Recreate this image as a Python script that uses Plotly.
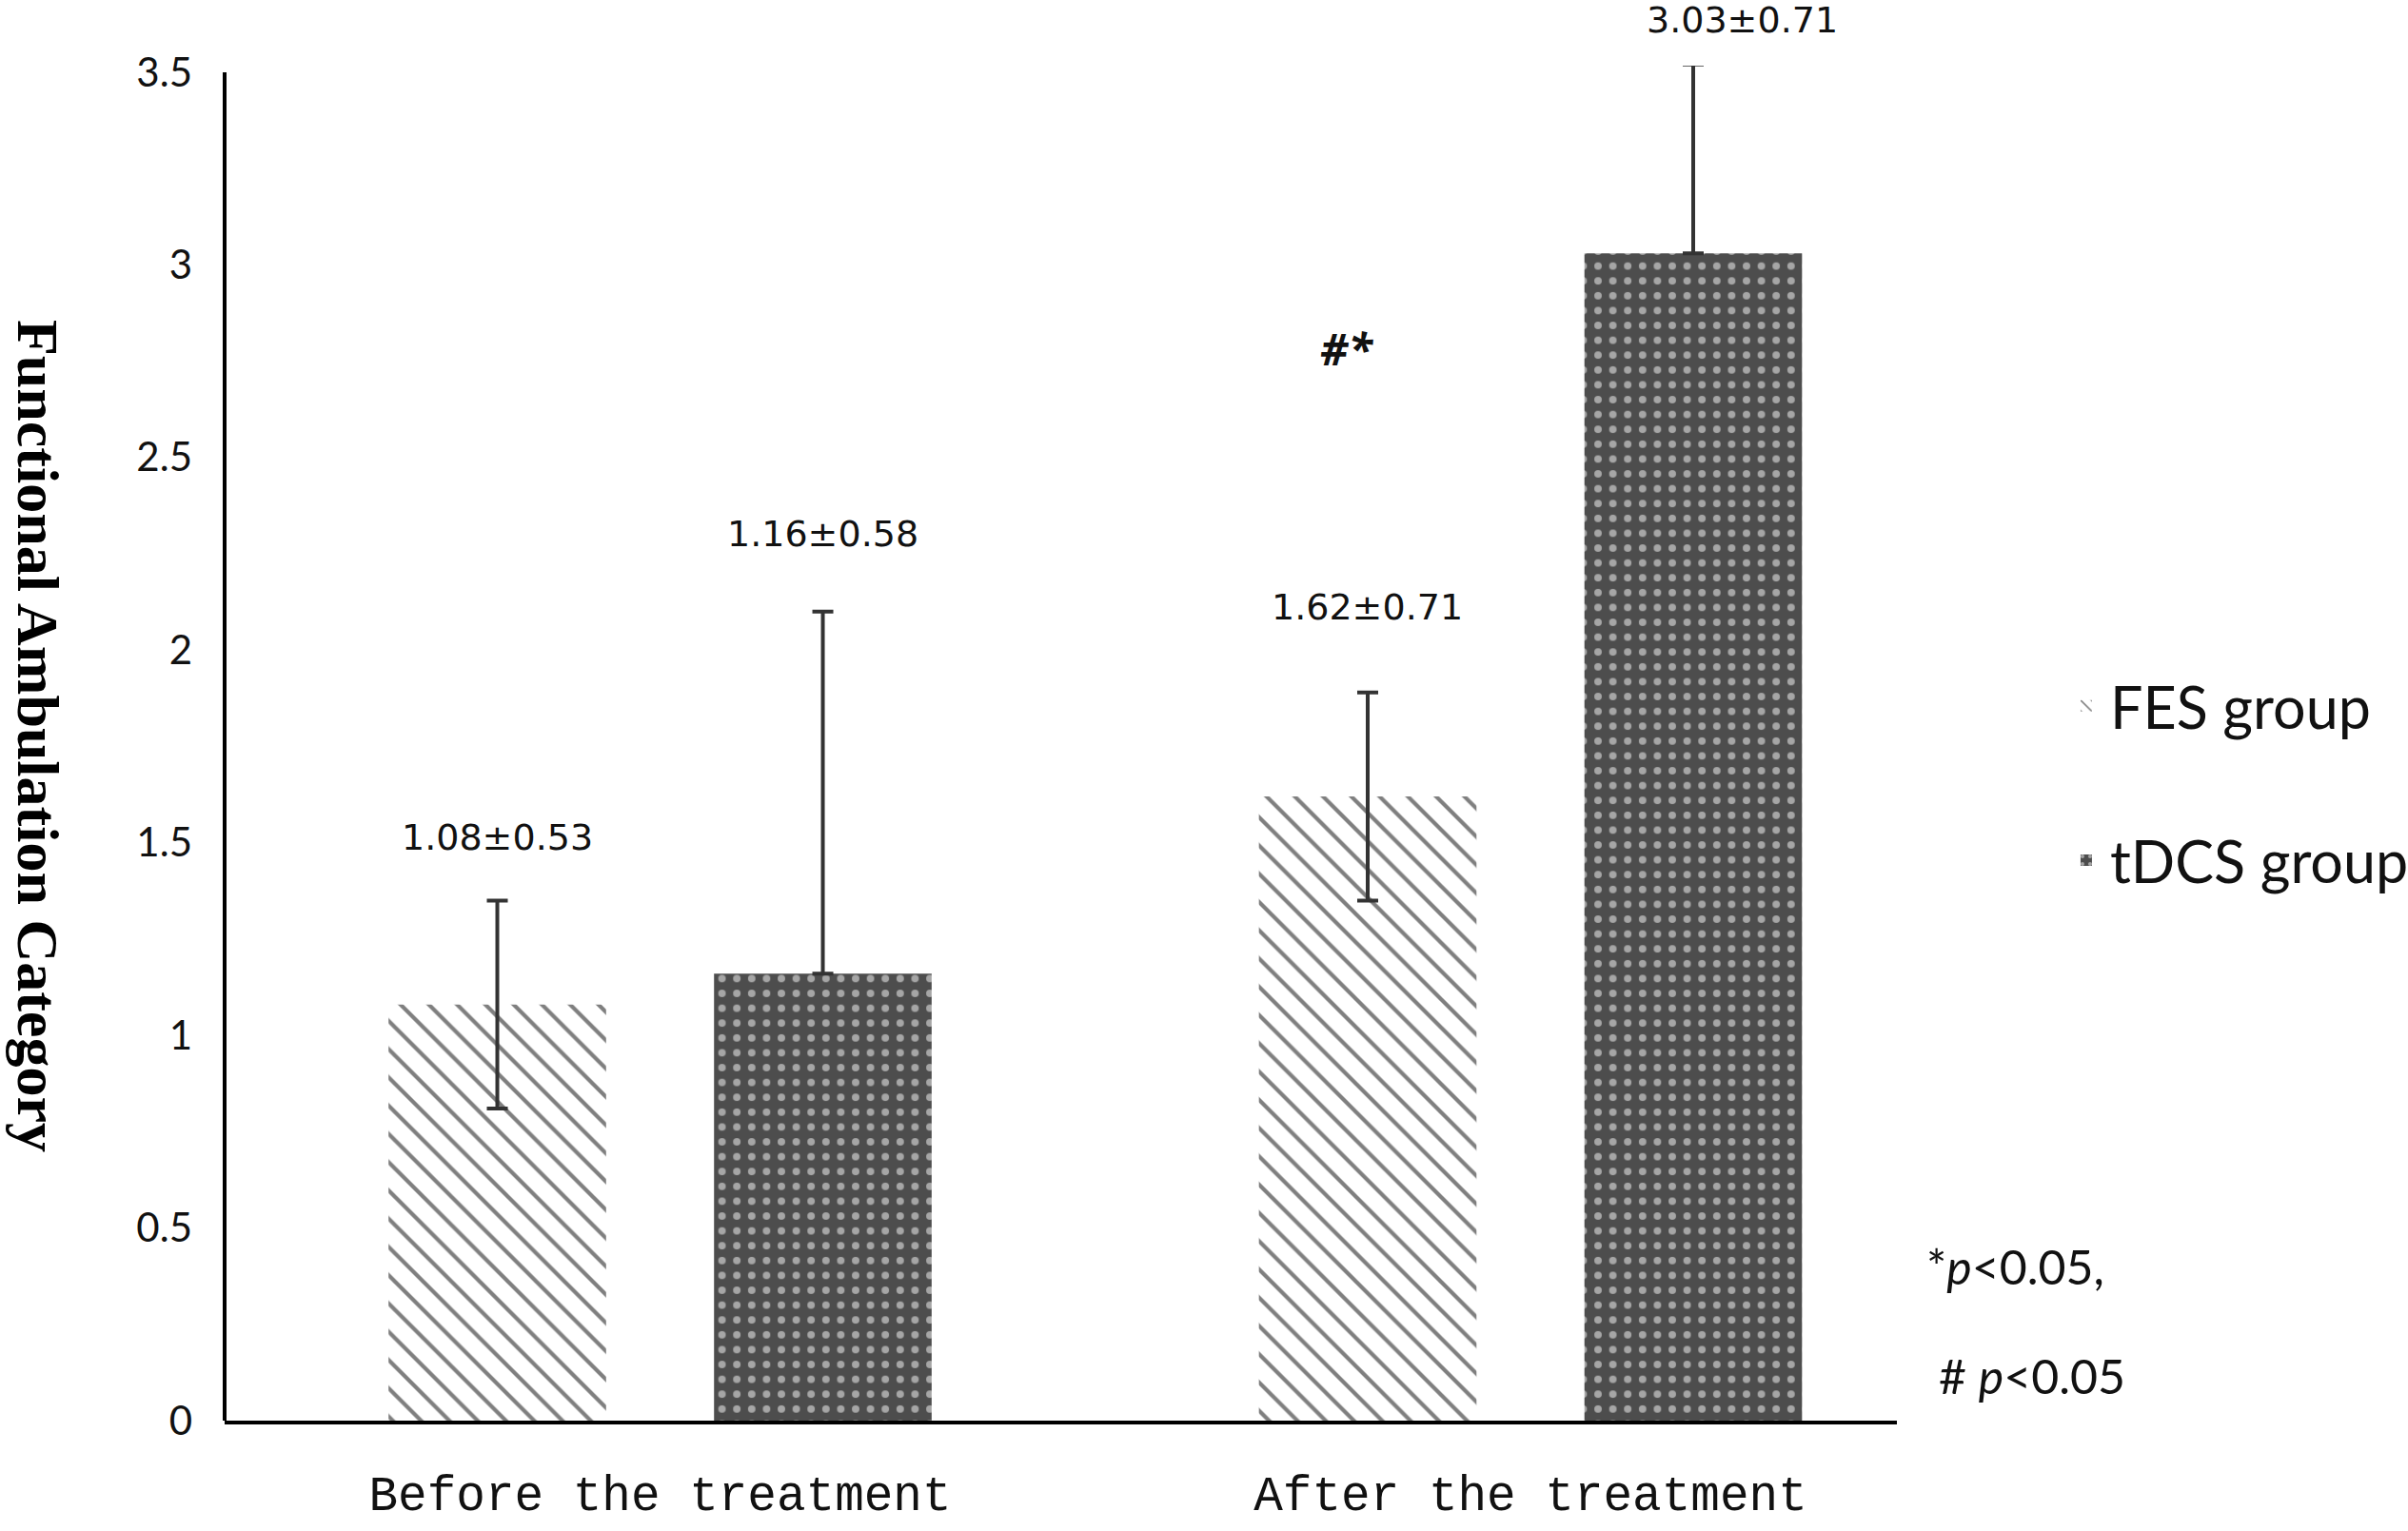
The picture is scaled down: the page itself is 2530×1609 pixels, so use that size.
import plotly.graph_objects as go

# ---- data ----
categories = ["Before the treatment", "After the treatment"]
group_names = ["FES group", "tDCS group"]
fes_mean = [1.08, 1.62]
fes_err_plus = [0.27, 0.27]
fes_err_minus = [0.27, 0.27]
tdcs_mean = [1.16, 3.03]
tdcs_err_plus = [0.94, 0.49]
tdcs_err_minus = [0.0, 0.0]
fes_labels = ["1.08±0.53", "1.62±0.71"]
tdcs_labels = ["1.16±0.58", "3.03±0.71"]
y_tick_vals = [0, 0.5, 1, 1.5, 2, 2.5, 3, 3.5]
y_tick_text = ["0", "0.5", "1", "1.5", "2", "2.5", "3", "3.5"]
y_title = "Functional Ambulation Category"
sig_mark = "#*"
notes = ["*<i>p</i>&lt;0.05,", "# <i>p</i>&lt;0.05"]

# ---- layout constants ----
W, H = 2530, 1609
BAR_W = 0.25
FES_OFF = -0.312
TDCS_OFF = 0.062
Y_TOP = 3.517
PX_PER_UNIT = 405.0

fig = go.Figure()

fig.add_trace(go.Bar(
    name=group_names[0], x=categories, y=fes_mean,
    offset=FES_OFF, width=BAR_W, legendgroup="fes",
    marker=dict(color="white", line=dict(width=0),
                pattern=dict(shape="\\", fgcolor="#000000", bgcolor="white",
                             size=21, solidity=0.2)),
    error_y=dict(type="data", symmetric=False, array=fes_err_plus,
                 arrayminus=fes_err_minus, color="#333333", thickness=4, width=11),
))
fig.add_trace(go.Bar(
    name=group_names[1], x=categories, y=tdcs_mean,
    offset=TDCS_OFF, width=BAR_W, legendgroup="tdcs",
    marker=dict(color="#4d4d4d", line=dict(width=0),
                pattern=dict(shape=".", fgcolor="white", bgcolor="#4d4d4d",
                             size=15.6, solidity=0.2)),
    error_y=dict(type="data", symmetric=False, array=tdcs_err_plus,
                 arrayminus=tdcs_err_minus, color="#333333", thickness=4, width=11),
))

annotations = []
# value labels above bars (anchored inside the axis range, shifted up in pixels)
label_y_fes = [1.515, 2.111]
label_y_tdcs = [2.302, 3.635]
label_xshift_tdcs = [0, 51]


def label_anchor(y):
    base = min(y, 3.5)
    return base, (y - base) * PX_PER_UNIT


for i in range(len(categories)):
    yb, ys = label_anchor(label_y_fes[i])
    annotations.append(dict(x=i + FES_OFF + BAR_W / 2, y=yb, yshift=ys, xref="x", yref="y",
                            text=fes_labels[i], showarrow=False, xanchor="center", yanchor="middle",
                            font=dict(family="DejaVu Sans", size=38, color="#111111")))
    yb, ys = label_anchor(label_y_tdcs[i])
    annotations.append(dict(x=i + TDCS_OFF + BAR_W / 2, y=yb, yshift=ys, xref="x", yref="y",
                            xshift=label_xshift_tdcs[i],
                            text=tdcs_labels[i], showarrow=False, xanchor="center", yanchor="middle",
                            font=dict(family="DejaVu Sans", size=38, color="#111111")))
# significance mark
annotations.append(dict(x=0.789, y=2.784, xref="x", yref="y", text="<b><i>" + sig_mark + "</i></b>",
                        showarrow=False, xanchor="center", yanchor="middle",
                        font=dict(family="Open Sans", size=46, color="#111111")))
# y-axis title
annotations.append(dict(x=-0.1116, y=0.505, xref="paper", yref="paper", text="<b>" + y_title + "</b>",
                        textangle=90, showarrow=False, xanchor="center", yanchor="middle",
                        font=dict(family="Liberation Serif", size=62, color="#000000")))
# p-value notes
annotations.append(dict(x=1.0165, y=0.114, xref="paper", yref="paper", text=notes[0],
                        showarrow=False, xanchor="left", yanchor="middle",
                        font=dict(family="Lato", size=50, color="#111111")))
annotations.append(dict(x=1.024, y=0.033, xref="paper", yref="paper", text=notes[1],
                        showarrow=False, xanchor="left", yanchor="middle",
                        font=dict(family="Lato", size=50, color="#111111")))

fig.update_layout(
    width=W, height=H,
    margin=dict(l=236, r=537, t=69, b=116, autoexpand=False),
    paper_bgcolor="white", plot_bgcolor="white",
    barmode="overlay",
    showlegend=True,
    legend=dict(x=1.099, y=0.56, xanchor="left", yanchor="top",
                font=dict(family="Lato", size=61, color="#111111"),
                traceorder="grouped", tracegroupgap=80, itemwidth=40,
                bgcolor="rgba(0,0,0,0)"),
    annotations=annotations,
    shapes=[dict(type="line", xref="paper", yref="y", x0=0, x1=0, y0=0, y1=3.5,
                 line=dict(color="black", width=4))],
)
fig.update_xaxes(type="category", range=[-0.5003, 1.421], showgrid=False, zeroline=False,
                 showline=True, linecolor="black", linewidth=4, ticks="",
                 tickfont=dict(family="Liberation Mono", size=51, color="#111111"),
                 ticklabelstandoff=29)
fig.update_yaxes(range=[0, Y_TOP], showgrid=False, zeroline=False, showline=False,
                 tickvals=y_tick_vals, ticktext=y_tick_text, ticks="",
                 tickfont=dict(family="Lato", size=42, color="#111111"),
                 ticklabelstandoff=33)

fig.write_html("out.html", config={"displayModeBar": False},
               post_script="document.body.style.margin='0';")
